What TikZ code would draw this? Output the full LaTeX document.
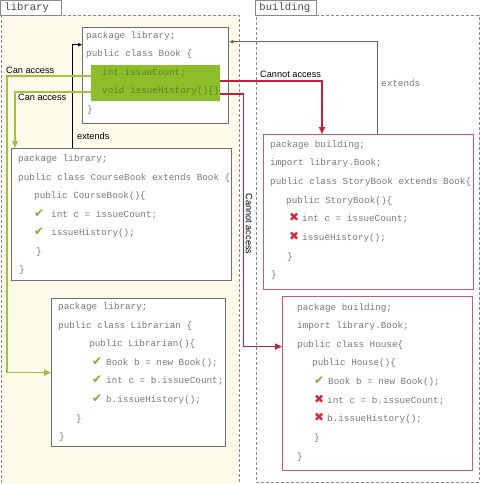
\documentclass[tikz,border=0pt]{standalone}
\usepackage{fontspec}
\setmainfont{Liberation Sans}
\setmonofont{Liberation Mono}
\newfontfamily\symfont{DejaVu Sans}
\usetikzlibrary{positioning,arrows.meta}

\definecolor{cream}{HTML}{FEFBEB}
\definecolor{zonegray}{HTML}{8A8A8A}
\definecolor{boxgray}{HTML}{6E6E6E}
\definecolor{codegray}{HTML}{7A7A7A}
\definecolor{hlgreen}{HTML}{8CBE2A}
\definecolor{hltext}{HTML}{5F7F2E}
\definecolor{okgreen}{HTML}{9BC53D}
\definecolor{checkgreen}{HTML}{74B22C}
\definecolor{badred}{HTML}{C0213F}
\definecolor{boxred}{HTML}{CC5A6A}
\definecolor{crossred}{HTML}{D9263A}

\newcommand\okmark[1][14pt]{\makebox[#1][l]{\symfont\fontsize{12}{12}\selectfont\textcolor{checkgreen}{✔}}}
\newcommand\nomark[1][13pt]{\makebox[#1][l]{\symfont\fontsize{12}{12}\selectfont\textcolor{crossred}{✖}}}

\tikzset{
  zone/.style={draw=zonegray, dashed, dash pattern=on 3pt off 2pt, line width=0.7pt, anchor=north west, inner sep=0pt},
  tab/.style={draw=zonegray, line width=0.8pt, fill=white, anchor=north west, minimum height=15pt, text width=53pt, inner xsep=4pt, inner ysep=0pt, align=left, font=\ttfamily\fontsize{10.6}{12}\selectfont, text=black!70},
  codebox/.style={draw=boxgray, line width=1.4pt, fill=white, anchor=north west, inner sep=0pt},
  redbox/.style={codebox, draw=boxred, line width=1.1pt},
  codeline/.style={anchor=west, inner sep=0pt, text height=7pt, text depth=1pt, font=\ttfamily\fontsize{9.3}{11}\selectfont, text=codegray},
  lbl/.style={anchor=west, inner sep=0pt, font=\fontsize{9.2}{11}\selectfont},
  okline/.style={draw=okgreen, line width=1.4pt, -{Triangle[length=7pt,width=6pt]}},
  badline/.style={draw=badred, line width=1.4pt, -{Triangle[length=7pt,width=6pt]}},
  extline/.style={line width=0.8pt, -{Triangle[length=4pt,width=3.5pt]}},
}

\begin{document}
\begin{tikzpicture}[x=1pt,y=-1pt]
\useasboundingbox (0,0) rectangle (480,484);

% the two packages
\node[zone, fill=cream, minimum width=238pt, minimum height=474pt] (libzone) at (1,15) {};
\node[zone, fill=white, minimum width=223pt, minimum height=467pt] (bldzone) at (256,15) {};
\node[tab] (libtab) at (0,0) {library};
\node[tab] (bldtab) at (255,0) {building};

% class Book
\node[codebox, minimum width=146pt, minimum height=96pt] (book) at (82,27) {};
\node[fill=hlgreen, anchor=north west, minimum width=129pt, minimum height=36pt, inner sep=0pt] (hl) at (91,65) {};
\foreach \x/\y/\t [count=\i] in {86/36/{package library;}, 86/54/{public class Book \{}, 87/110/{\}}}
  \node[codeline] (book-\i) at (\x,\y) {\t};
\node[codeline, text=hltext] (cnt) at (102,73) {int issueCount;};
\node[codeline, text=hltext] (hist) at (102,91) {void issueHistory()\{\}};

% class CourseBook
\node[codebox, minimum width=220pt, minimum height=132pt] (cb) at (11,148) {};
\foreach \x/\y/\t [count=\i] in {18/158/{package library;}, 18/177/{public class CourseBook extends Book \{},
    34/195/{public CourseBook()\{}, 34/214/{\okmark[17pt]int c = issueCount;},
    34/232/{\okmark[17pt]issueHistory();}, 36/251/{\}}, 19/269/{\}}}
  \node[codeline] (cb-\i) at (\x,\y) {\t};

% class Librarian
\node[codebox, minimum width=174pt, minimum height=148pt] (lib) at (51,298) {};
\foreach \x/\y/\t [count=\i] in {58/306/{package library;}, 58/325/{public class Librarian \{},
    89/343/{public Librarian()\{}, 92/362/{\okmark Book b = new Book();},
    92/380/{\okmark int c = b.issueCount;}, 92/399/{\okmark b.issueHistory();},
    76/418/{\}}, 59/436/{\}}}
  \node[codeline] (lib-\i) at (\x,\y) {\t};

% class StoryBook
\node[redbox, minimum width=210pt, minimum height=155pt] (sb) at (263,134) {};
\foreach \x/\y/\t [count=\i] in {270/144/{package building;}, 270/162/{import library.Book;},
    270/181/{public class StoryBook extends Book\{}, 286/200/{public StoryBook()\{},
    289/218/{\nomark int c = issueCount;}, 289/237/{\nomark issueHistory();},
    287/256/{\}}, 271/274/{\}}}
  \node[codeline] (sb-\i) at (\x,\y) {\t};

% class House
\node[redbox, minimum width=190pt, minimum height=174pt] (house) at (282,296) {};
\foreach \x/\y/\t [count=\i] in {297/307/{package building;}, 297/325/{import library.Book;},
    297/344/{public class House\{}, 312/362/{public House()\{},
    314/381/{\okmark Book b = new Book();}, 314/400/{\nomark int c = b.issueCount;},
    314/418/{\nomark b.issueHistory();}, 314/437/{\}}, 297/456/{\}}}
  \node[codeline] (house-\i) at (\x,\y) {\t};

% connectors
\draw[extline, draw=black] ([xshift=61pt]cb.north west) |- ([yshift=31pt]book.west);
\draw[extline, draw=black!60] ([xshift=114pt]sb.north west) |- ([yshift=34pt]book.east);
\draw[okline] ([yshift=7pt]hl.west) -- ++(-84,0) |- (lib.west);
\draw[okline] ([yshift=-9pt]hl.west) -| ([xshift=4pt]cb.north west);
\draw[badline] ([yshift=2pt]hl.east) -| ([xshift=59pt]sb.north west);
\draw[badline] ([yshift=-11pt]hl.east) -- ++(23,0) |- ([yshift=37pt]house.west);

% labels
\node[lbl] (canacc1) at (6,70) {Can access};
\node[lbl] (canacc2) at (18,97) {Can access};
\node[lbl] (noacc1) at (260,74) {Cannot access};
\node[lbl, rotate=-90, anchor=center] (noacc2) at (249,224) {Cannot access};
\node[lbl] (ext1) at (77,136) {extends};
\node[codeline] (ext2) at (381,84) {extends};
\end{tikzpicture}
\end{document}
